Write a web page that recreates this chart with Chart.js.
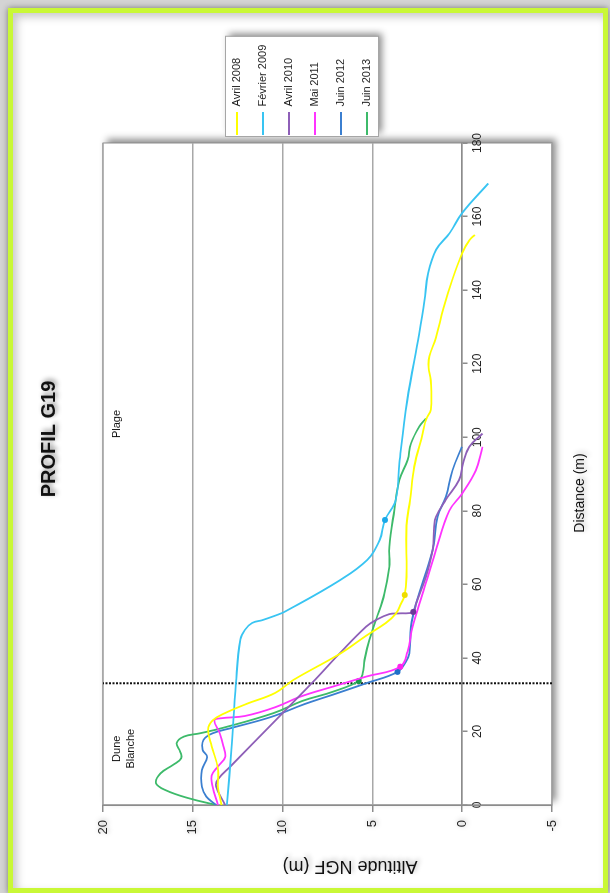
<!DOCTYPE html>
<html lang="fr">
<head>
<meta charset="utf-8">
<title>Profil G19</title>
<script src="https://cdn.jsdelivr.net/npm/chart.js@4.4.1/dist/chart.umd.min.js"></script>
<style>
  html, body { margin: 0; padding: 0; width: 610px; height: 893px; overflow: hidden; background: #d4d4d4; }
  #frame {
    position: absolute; left: 8px; top: 8px; width: 590px; height: 875px;
    border: 5px solid #c9f836; background: #fff; overflow: hidden;
    box-shadow: 0 0 6px rgba(0,0,0,0.45), inset 4px 4px 8px rgba(0,0,0,0.22);
  }
  /* the chart is laid out normally, then turned a quarter turn to the left */
  #turn {
    position: absolute; left: 0; top: 0; width: 875px; height: 590px;
    transform-origin: 0 0; transform: translate(0, 875px) rotate(-90deg);
  }
</style>
</head>
<body>
<div id="frame">
  <div id="turn"><canvas id="profil" width="875" height="590" style="width:875px;height:590px"></canvas></div>
</div>
<script>
const seriesLabels = ['Avril 2008', 'Février 2009', 'Avril 2010', 'Mai 2011', 'Juin 2012', 'Juin 2013'];

// [distance (m), altitude NGF (m)]
const avril2008 = [[0,13.4],[5,13.6],[10,13.6],[16,13.95],[20.5,14.15],[23,13.9],[25,13.2],[27.5,12.0],[30.5,10.4],[34,9.4],[41,6.85],[46,5.35],[49.5,4.25],[52,3.7],[54.8,3.4],[57.1,3.2],[62,3.1],[76,3.1],[83,2.9],[92,2.67],[101,2.2],[105,2.0],[107.5,1.75],[115.5,1.75],[119,1.87],[122,1.83],[127,1.46],[135,1.05],[143,0.54],[150,0],[153.6,-0.4],[155,-0.7]];
const fevrier2009 = [[0,13.1],[15,12.85],[33,12.6],[45,12.35],[47.6,12.1],[49.5,11.7],[50.3,11.1],[51.7,10.3],[52.5,9.9],[61,6.85],[66.6,5.3],[72,4.6],[77.5,4.3],[83,3.7],[93,3.5],[110,3.06],[128,2.4],[137,2.1],[144.6,1.9],[151,1.45],[155.5,0.7],[161,0],[169,-1.45]];
const avril2010 = [[0,13.2],[5,13.7],[7,13.6],[10.5,12.9],[22,10.6],[34,8.2],[41.2,6.83],[48.5,5.35],[50.3,4.8],[51.9,4.06],[52.1,3.5],[52.5,2.72],[54.8,2.57],[62,2.02],[69.3,1.65],[75.7,1.56],[78.4,1.46],[83,0.91],[88.4,0.17],[93,-0.05],[97.4,-0.39],[101,-1.13]];
const mai2011 = [[0,13.6],[5,13.9],[8,13.95],[10.5,13.6],[13,13.2],[16,13.3],[19.5,13.5],[23,13.8],[23.6,13.4],[24.2,12.1],[26.6,10.4],[29.4,9.05],[32.2,7.2],[34.9,5.35],[37.6,3.45],[41.7,3.04],[48.5,2.76],[57.5,2.2],[69.3,1.46],[80,0.72],[84.7,0],[91,-0.76],[97.4,-1.13]];
const juin2012 = [[0,13.7],[2.3,14.25],[5,14.5],[9.5,14.5],[13,14.2],[15,14.45],[17.7,14.4],[19.5,13.9],[21,12.8],[24,10.6],[27.4,8.8],[30,7.2],[33.1,5.35],[36.2,3.6],[39,3.13],[41.2,2.94],[48.5,2.85],[54.8,2.57],[69.3,1.65],[78.4,1.37],[83.8,0.91],[91,0.54],[97.4,0.02]];
const juin2013 = [[0,13.7],[1.8,15.2],[4,16.5],[6,17.05],[8.6,16.8],[10.9,16.1],[12.7,15.65],[14.5,15.7],[16.8,15.9],[18.6,15.5],[19.5,14.6],[21,13.3],[25,10.5],[28.3,8.9],[30.8,7.2],[33.7,5.76],[35.8,5.54],[39.4,5.44],[44.9,5.17],[50.3,4.8],[57.5,4.33],[64.8,4.06],[70.2,4.06],[80.2,3.78],[88.4,3.5],[93.8,3.04],[98.3,2.85],[102.9,2.39],[105.1,2.02]];
const seriesData = [avril2008, fevrier2009, avril2010, mai2011, juin2012, juin2013];

// distance of the marked point on each profile
const markerAt = [57.1, 77.5, 52.5, 37.6, 36.2, 33.7];
// dune / beach limit
const limitDistance = 33.1;

const distanceTicks = [0, 20, 40, 60, 80, 100, 120, 140, 160, 180];
const altitudeTicks = [-5, 0, 5, 10, 15, 20];

const zoneLabels = [
  { text: 'Dune', x: 15.3, y: 19.2 },
  { text: 'Blanche', x: 15.3, y: 18.45 },
  { text: 'Plage', x: 103.6, y: 19.2 }
];

const seriesColors = ['#ffff00', '#38c4f2', '#8e5fb8', '#ff33ff', '#3b7fd0', '#3dba6a'];
const markerColors = ['#eedd00', '#1aa8e8', '#6b3a99', '#ff22ee', '#1f6fc8', '#1a9948'];

const FONT = '"Liberation Sans", Arial, sans-serif';
Chart.defaults.font.family = FONT;
Chart.defaults.color = '#222';

// plot box wanted inside the 875 x 590 canvas
const PLOT_RIGHT = 745;
const measure = document.createElement('canvas').getContext('2d');
measure.font = `normal 11px ${FONT}`;
const widestLabel = Math.max(...seriesLabels.map(t => measure.measureText(t).width));
const legendWidth = 8 + 23 + 5.5 + widestLabel + 10;
const padRight = 875 - PLOT_RIGHT - legendWidth;

function drawText(ctx, text, x, y, font, rotate, shadow) {
  ctx.save();
  ctx.translate(x, y);
  if (rotate) ctx.rotate(rotate);
  ctx.font = font;
  ctx.textAlign = 'center';
  ctx.textBaseline = 'middle';
  if (shadow) {
    ctx.shadowColor = shadow;
    ctx.shadowBlur = 5;
    ctx.shadowOffsetX = 2;
    ctx.shadowOffsetY = 2;
  }
  ctx.fillStyle = '#111';
  ctx.fillText(text, 0, 0);
  ctx.restore();
}

const decor = {
  id: 'decor',
  beforeDraw(chart) {
    const { ctx, chartArea: area, scales } = chart;

    // plot area with its shadow
    ctx.save();
    ctx.shadowColor = 'rgba(0,0,0,0.45)';
    ctx.shadowBlur = 7;
    ctx.shadowOffsetX = 4;
    ctx.shadowOffsetY = 4;
    ctx.fillStyle = '#fff';
    ctx.fillRect(area.left, area.top, area.width, area.height);
    ctx.restore();
    ctx.strokeStyle = '#8c8c8c';
    ctx.lineWidth = 1;
    ctx.strokeRect(area.left, area.top, area.width, area.height);

    // legend frame
    const boxes = chart.legend.legendHitBoxes;
    if (boxes.length) {
      const left = Math.min(...boxes.map(b => b.left)) - 2;
      const right = Math.max(...boxes.map(b => b.left + b.width)) + 8;
      const top = boxes[0].top + 5.5 - 12;
      const bottom = boxes[boxes.length - 1].top + 5.5 + 11;
      ctx.save();
      ctx.shadowColor = 'rgba(0,0,0,0.45)';
      ctx.shadowBlur = 7;
      ctx.shadowOffsetX = 4;
      ctx.shadowOffsetY = 4;
      ctx.fillStyle = '#fff';
      ctx.fillRect(left, top, right - left, bottom - top);
      ctx.restore();
      ctx.strokeStyle = '#a6a6a6';
      ctx.strokeRect(left + 0.5, top + 0.5, right - left, bottom - top);
    }

    // soft halo behind the altitude labels (chart.js draws the crisp text later)
    ctx.save();
    ctx.font = `13px ${FONT}`;
    ctx.textAlign = 'right';
    ctx.textBaseline = 'middle';
    ctx.fillStyle = '#fff';
    ctx.shadowColor = 'rgba(0,0,0,0.35)';
    ctx.shadowBlur = 5;
    ctx.shadowOffsetX = 1;
    ctx.shadowOffsetY = 1;
    altitudeTicks.forEach(v => {
      ctx.fillText(String(v), scales.y.right - 15, scales.y.getPixelForValue(v));
    });
    ctx.restore();

    drawText(ctx, 'PROFIL G19', 449, 36, `bold 20px ${FONT}`, 0, 'rgba(0,0,0,0.45)');
    drawText(ctx, 'Distance (m)', 395, 567, `14px ${FONT}`, 0, 'rgba(0,0,0,0.3)');
    drawText(ctx, 'Altitude NGF (m)', 22, 337, `18px ${FONT}`, -Math.PI / 2, 'rgba(0,0,0,0.3)');

    zoneLabels.forEach(z => {
      drawText(ctx, z.text, scales.x.getPixelForValue(z.x), scales.y.getPixelForValue(z.y), `11px ${FONT}`);
    });
  }
};

const datasets = seriesLabels.map((label, i) => ({
  label,
  data: seriesData[i].map(([x, y]) => ({ x, y })),
  borderColor: seriesColors[i],
  backgroundColor: seriesColors[i],
  borderWidth: 1.8,
  tension: 0.4,
  fill: false,
  pointRadius: c => (c.raw && c.raw.x === markerAt[i] ? 3 : 0),
  pointBackgroundColor: markerColors[i],
  pointBorderWidth: 0
}));

datasets.push({
  label: '',
  data: [{ x: limitDistance, y: -5 }, { x: limitDistance, y: 20 }],
  borderColor: '#111',
  borderWidth: 2,
  borderDash: [2, 1.5],
  pointRadius: 0,
  tension: 0
});

new Chart(document.getElementById('profil'), {
  type: 'line',
  data: { datasets },
  plugins: [decor],
  options: {
    responsive: false,
    devicePixelRatio: 1,
    animation: false,
    events: [],
    layout: { padding: { top: 90, bottom: 51, left: 0, right: padRight } },
    scales: {
      x: {
        type: 'linear',
        min: distanceTicks[0],
        max: distanceTicks[distanceTicks.length - 1],
        position: { y: 0 },
        afterBuildTicks: s => { s.ticks = distanceTicks.map(value => ({ value })); },
        grid: { drawOnChartArea: false, tickLength: 5, tickColor: '#8c8c8c', lineWidth: 1.5 },
        border: { color: '#8c8c8c', width: 1.5 },
        ticks: { font: { size: 12 }, color: '#222', padding: 3, maxRotation: 0, autoSkip: false }
      },
      y: {
        type: 'linear',
        min: altitudeTicks[0],
        max: altitudeTicks[altitudeTicks.length - 1],
        afterBuildTicks: s => { s.ticks = altitudeTicks.map(value => ({ value })); },
        afterFit: s => { s.width = 83; },
        grid: { color: '#a8a8a8', lineWidth: 1.5, tickLength: 7, tickColor: '#8c8c8c' },
        border: { color: '#8c8c8c', width: 1.5 },
        ticks: { font: { size: 13 }, color: '#222', padding: 8 }
      }
    },
    plugins: {
      tooltip: { enabled: false },
      legend: {
        position: 'right',
        align: 'start',
        title: { display: true, text: ' ', font: { size: 10, lineHeight: '12px' }, padding: { top: 0, bottom: 108.5 } },
        labels: {
          usePointStyle: true,
          pointStyle: 'line',
          pointStyleWidth: 23,
          padding: 8,
          color: '#222',
          font: { size: 11, lineHeight: '18px' },
          generateLabels(chart) {
            return Chart.defaults.plugins.legend.labels.generateLabels(chart)
              .filter(item => item.text !== '')
              .map(item => ({ ...item, text: [item.text], lineWidth: 2 }));
          }
        }
      }
    }
  }
});
</script>
</body>
</html>
